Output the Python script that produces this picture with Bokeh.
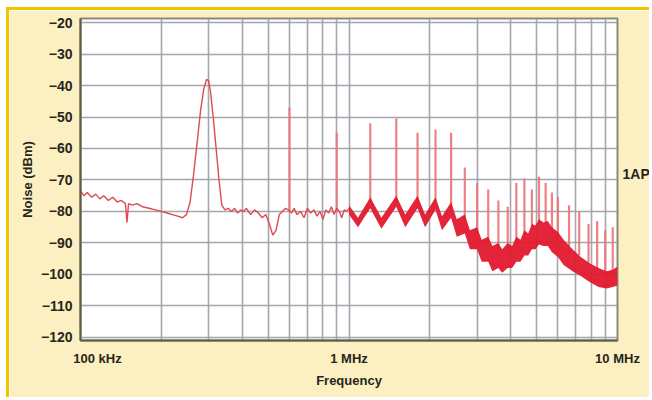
from bokeh.plotting import figure
from bokeh.models import Range1d, FixedTicker, LinearAxis
from bokeh.embed import file_html
from bokeh.resources import INLINE

# ---------------- data ----------------
y_ticks = [-120, -110, -100, -90, -80, -70, -60, -50, -40, -30, -20]
grid_mhz = [0.1, 0.2, 0.3, 0.4, 0.5, 0.6, 0.7, 0.8, 0.9,
            1, 2, 3, 4, 5, 6, 7, 8, 9, 10]
x_tick_mhz = [0.1, 1, 10]
x_tick_labels = ["100 kHz", "1 MHz", "10 MHz"]

# low-frequency noise trace (MHz, dBm)
trace_mhz = [0.100, 0.103, 0.106, 0.110, 0.114, 0.118, 0.122, 0.127, 0.132, 0.137,
             0.142, 0.147, 0.149, 0.151, 0.156, 0.162, 0.170, 0.180, 0.190, 0.200,
             0.210, 0.220, 0.230, 0.240, 0.248, 0.256, 0.264, 0.272, 0.280, 0.288,
             0.295, 0.300, 0.305, 0.312, 0.320, 0.328, 0.336, 0.345, 0.355, 0.365,
             0.375, 0.385, 0.395, 0.405, 0.415, 0.430, 0.445, 0.460, 0.475, 0.490,
             0.505, 0.520, 0.535, 0.550, 0.565, 0.580, 0.595, 0.610, 0.625, 0.640,
             0.660, 0.680, 0.700, 0.720, 0.740, 0.760, 0.780, 0.800, 0.820, 0.840,
             0.860, 0.880, 0.900, 0.920, 0.940, 0.960, 0.980, 1.000]
trace_dbm = [-73.5, -75.0, -74.0, -75.5, -74.5, -76.0, -75.0, -76.5, -75.5, -77.0,
             -76.5, -77.5, -83.5, -77.5, -78.0, -77.5, -78.5, -79.0, -79.5, -80.0,
             -80.5, -81.0, -81.5, -82.0, -81.0, -77.0, -68.0, -58.0, -48.0, -41.0,
             -38.0, -38.5, -42.0, -50.0, -60.0, -70.0, -78.0, -79.5, -79.0, -80.0,
             -79.0, -80.5, -79.5, -80.0, -79.0, -81.0, -79.5, -80.5, -82.0, -81.0,
             -84.0, -87.5, -86.0, -81.0, -80.0, -79.0, -79.5, -80.5, -79.0, -81.0,
             -80.0, -82.0, -79.0, -80.5, -79.5, -81.5, -80.0, -82.5, -79.5, -80.5,
             -78.5, -81.0, -79.0, -80.0, -82.0, -79.5, -80.0, -79.0]

# dense noise band above 1 MHz (MHz, upper dBm, lower dBm)
band_mhz = [1.00, 1.08, 1.20, 1.32, 1.50, 1.62, 1.80, 1.92, 2.10, 2.22,
            2.40, 2.52, 2.70, 2.82, 3.00, 3.12, 3.30, 3.42, 3.60, 3.72,
            3.90, 4.05, 4.20, 4.35, 4.50, 4.65, 4.80, 4.95, 5.10, 5.30,
            5.50, 5.70, 6.00, 6.30, 6.80, 7.30, 7.90, 8.50, 9.10, 9.60, 10.0]
band_hi = [-78, -82, -75.5, -82, -75, -81, -75, -81, -75.5, -81.5,
           -77, -82.5, -81, -86, -85, -89, -88, -91, -90, -92,
           -90, -91, -88, -89, -86, -87, -84, -84.5, -82.5, -83.5,
           -83, -85, -86.5, -89, -92, -94.5, -96.5, -98, -99, -98.5, -97.5]
band_lo = [-81, -85, -79, -85.5, -78.5, -85, -79, -85, -79.5, -86,
           -82, -88, -87, -92, -92, -96, -96, -99, -98, -99.5,
           -98, -98, -96, -96, -94, -94, -92, -92, -90.5, -91,
           -91, -93, -94.5, -97, -99, -100.5, -102.5, -104, -104.5, -104, -103.5]

# 300 kHz harmonic spurs (MHz, top dBm, base dBm)
spur_mhz = [0.6, 0.9, 1.2, 1.5, 1.8, 2.1, 2.4, 2.7, 3.0, 3.3,
            3.6, 3.9, 4.2, 4.5, 4.8, 5.1, 5.4, 5.7, 6.0, 6.6,
            7.2, 7.8, 8.4, 9.0, 9.6]
spur_top = [-47, -55, -52, -50.5, -55, -54, -55, -66, -71, -73,
            -76.5, -78.5, -71, -69.5, -73, -69, -71, -74, -75.5, -78,
            -80, -84, -83, -86, -85]
spur_base = [-80, -80, -77, -77, -77, -77, -79, -83, -87, -90,
             -92, -92, -90, -88, -86, -84, -84, -86, -88, -91,
             -94, -97, -99, -100, -100]

# right-hand annotation
side_label = "1AP"
side_label_y = -68

# ---------------- styling ----------------
FONT = "Liberation Sans"
TXT = "#26261c"
BEIGE = "#FCEFC2"
GOLD = "#F4C300"

p = figure(width=643, height=390, x_axis_type="log",
           x_range=Range1d(0.1, 10), y_range=Range1d(-121, -18.7),
           output_backend="svg", toolbar_location=None,
           min_border_left=71, min_border_right=34,
           min_border_top=8, min_border_bottom=60)
p.margin = (7, 0, 0, 6)
p.styles = {"border-top": "3px solid " + GOLD, "border-left": "3px solid " + GOLD}
p.background_fill_color = "white"
p.border_fill_color = BEIGE
p.outline_line_color = "#8a8a7c"
p.outline_line_width = 2

# x axis: the first label sits a little right of its gridline, as in the reference
first_label_shift_px = 17
frame_px_per_decade = 269.0
x_label_pos = list(x_tick_mhz)
x_label_pos[0] = x_tick_mhz[0] * 10 ** (first_label_shift_px / frame_px_per_decade)


def style_axis(ax, size):
    ax.major_tick_line_color = None
    ax.minor_tick_line_color = None
    ax.major_tick_out = 0
    ax.major_tick_in = 0
    ax.minor_tick_out = 0
    ax.minor_tick_in = 0
    ax.major_label_text_font = FONT
    ax.major_label_text_font_style = "bold"
    ax.major_label_text_font_size = size
    ax.major_label_text_color = TXT
    ax.axis_label_text_font = FONT
    ax.axis_label_text_font_style = "bold"
    ax.axis_label_text_font_size = "13px"
    ax.axis_label_text_color = TXT


xa = p.xaxis[0]
style_axis(xa, "13px")
xa.ticker = FixedTicker(ticks=x_label_pos)
xa.major_label_overrides = dict(zip(x_label_pos, x_tick_labels))
xa.axis_line_color = "#5c5c48"
xa.axis_line_width = 2
xa.major_label_standoff = 10
xa.axis_label = "Frequency"
xa.axis_label_standoff = 4

ya = p.yaxis[0]
style_axis(ya, "14px")
ya.ticker = FixedTicker(ticks=y_ticks)
ya.axis_line_color = "#5c5c48"
ya.axis_line_width = 2
ya.major_label_standoff = 8
ya.axis_label = "Noise (dBm)"
ya.axis_label_standoff = 3

ra = LinearAxis(ticker=FixedTicker(ticks=[side_label_y]),
                major_label_overrides={side_label_y: side_label})
style_axis(ra, "14px")
ra.axis_line_color = None
ra.major_label_standoff = 5
p.add_layout(ra, "right")

p.xgrid.ticker = FixedTicker(ticks=grid_mhz)
p.ygrid.ticker = FixedTicker(ticks=y_ticks)
for g in (p.xgrid[0], p.ygrid[0]):
    g.grid_line_color = "#9c9ca6"
    g.grid_line_width = 1.6
    g.grid_line_alpha = 0.9

# spurs
p.segment(x0=spur_mhz, y0=spur_base, x1=spur_mhz, y1=spur_top,
          line_color="#EB7479", line_width=2.2, line_alpha=0.9)
# low-frequency trace
p.line(trace_mhz, trace_dbm, line_color="#E04A4E", line_width=1.4)
# dense band
p.varea(x=band_mhz, y1=band_lo, y2=band_hi, fill_color="#E3182D", fill_alpha=0.95)

open("out.html", "w").write(file_html(p, INLINE))
